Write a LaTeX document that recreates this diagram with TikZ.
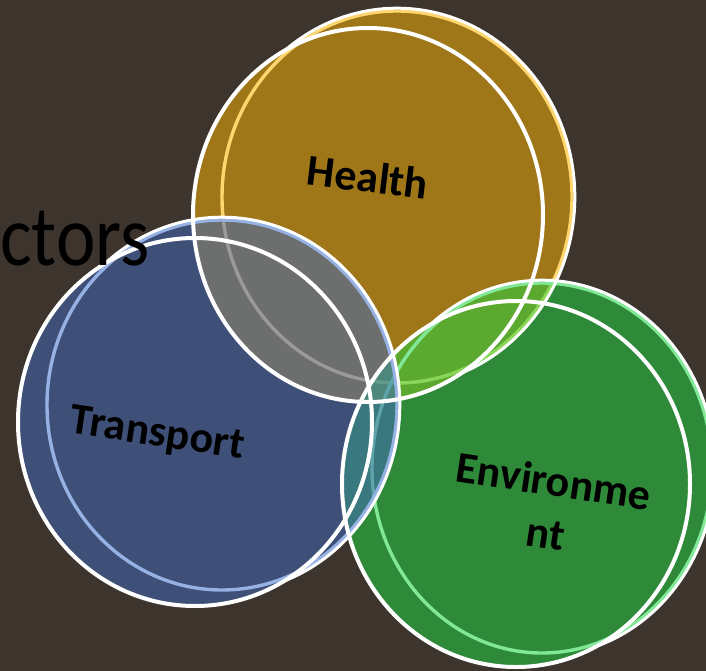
\documentclass[tikz,border=0pt]{standalone}
\usepackage{fontspec}
\setmainfont{Carlito}
\usetikzlibrary{positioning}

\definecolor{bgbrown}{RGB}{61,53,45}
\definecolor{healthfill}{RGB}{159,119,25}
\definecolor{healthedge}{RGB}{255,214,110}
\definecolor{envfill}{RGB}{33,215,69}
\definecolor{envedge}{RGB}{128,232,150}
\definecolor{transfill}{RGB}{65,104,188}
\definecolor{transedge}{RGB}{150,178,228}

\begin{document}
\begin{tikzpicture}
			[x=1pt, y=-1pt,
			 rim/.style={draw=white, line width=4pt},
			 edge/.style={line width=3.4pt},
			 setlabel/.style={font=\fontsize{44}{53}\selectfont\bfseries, text=black, align=center, inner sep=0pt},]
			\useasboundingbox (0,0) rectangle (706,671);
			\fill[bgbrown] (0,0) rectangle (706,671);

			% Health (front ellipse H1, back ellipse H2)
			\fill[healthfill] (397,197) ellipse [x radius=175pt, y radius=186pt]
			                  (368,215) ellipse [x radius=175pt, y radius=187pt];
			\draw[edge, healthedge] (397,197) ellipse [x radius=175pt, y radius=186pt];

			% Environment
			\fill[envfill, fill opacity=0.53] (542,468) ellipse [x radius=170pt, y radius=185pt]
			                  (516,484) ellipse [x radius=174pt, y radius=183pt];
			\draw[edge, envedge] (542,468) ellipse [x radius=170pt, y radius=185pt];

			% Transport
			\fill[transfill, fill opacity=0.53] (222,405) ellipse [x radius=175pt, y radius=185pt]
			                  (195,422) ellipse [x radius=177pt, y radius=184pt];
			\draw[edge, transedge] (222,405) ellipse [x radius=175pt, y radius=185pt];

			% white rims
			\draw[rim] (368,215) ellipse [x radius=175pt, y radius=187pt];
			\draw[rim] (516,484) ellipse [x radius=174pt, y radius=183pt];
			\draw[rim] (195,422) ellipse [x radius=177pt, y radius=184pt];
			\begin{scope}[even odd rule]
				\clip (0,0) rectangle (706,671) (368,215) ellipse [x radius=175pt, y radius=187pt];
				\draw[rim, line width=3pt] (397,197) ellipse [x radius=177.8pt, y radius=188.8pt];
			\end{scope}
			\begin{scope}[even odd rule]
				\clip (0,0) rectangle (706,671) (516,484) ellipse [x radius=174pt, y radius=183pt];
				\draw[rim, line width=3pt] (542,468) ellipse [x radius=172.8pt, y radius=187.8pt];
			\end{scope}
			\begin{scope}[even odd rule]
				\clip (0,0) rectangle (706,671) (195,422) ellipse [x radius=177pt, y radius=184pt];
				\draw[rim, line width=3pt] (222,405) ellipse [x radius=177.8pt, y radius=187.8pt];
			\end{scope}

			% labels
			\node[setlabel, rotate=-7] (health) at (368,177) {Health};
			\node[setlabel, rotate=-8.5] (transport) at (157,435) {Transport};
			\node[setlabel, rotate=-8.5] (environment) at (550,507) {Environme\\nt};
			\node[anchor=base west, inner sep=0pt, font=\fontsize{86}{90}\selectfont] (title) at (0,265) {\scalebox{0.87}[1]{ctors}};
			\end{tikzpicture}
\end{document}
